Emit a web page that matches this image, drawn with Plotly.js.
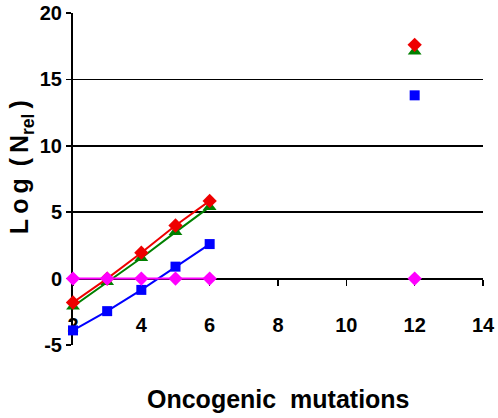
<!DOCTYPE html>
<html>
<head>
<meta charset="utf-8">
<script src="https://cdn.plot.ly/plotly-3.0.1.min.js"></script>
<style>html,body{margin:0;padding:0;background:#fff;}#chart{width:498px;height:418px;}</style>
</head>
<body>
<div id="chart"></div>
<script>
// Data (gap between 6 and 12 breaks the line)
const mutations = [2, 3, 4, 5, 6, null, 12];
const redSeries = [-1.8, 0.0, 1.95, 4.0, 5.85, null, 17.6];
const greenSeries = [-2.1, -0.25, 1.55, 3.5, 5.4, null, 17.1];
const blueSeries = [-3.9, -2.45, -0.85, 0.9, 2.6, null, 13.8];
const magentaSeries = [0, 0, 0, 0, 0, null, 0];
const xTicks = [2, 4, 6, 8, 10, 12, 14];
const yTicks = [-5, 0, 5, 10, 15, 20];
const gridTicks = [5, 10, 15];

function series(y, color, symbol, size) {
  return {
    x: mutations, y: y, type: 'scatter', mode: 'lines+markers',
    connectgaps: false, cliponaxis: false,
    line: {color: color, width: 2},
    marker: {color: color, symbol: symbol, size: size},
    hoverinfo: 'skip', showlegend: false
  };
}

const data = [
  series(blueSeries, '#0000ff', 'square', 10),
  series(greenSeries, '#008000', 'triangle-up', 12),
  series(redSeries, '#ee0000', 'diamond', 11),
  series(magentaSeries, '#ff00ff', 'diamond', 11)
];
// invisible trace to activate the grid-only overlay axis
data.push({x: [2], y: [0], yaxis: 'y2', mode: 'markers', marker: {opacity: 0}, hoverinfo: 'skip', showlegend: false});

const fam = '"Liberation Sans", Arial, sans-serif';
const tickFont = {family: fam, size: 20, color: '#000', weight: 'bold'};
const bold = v => '<b>' + v + '</b>';

const layout = {
  width: 498, height: 418,
  margin: {l: 73, r: 15, t: 13, b: 73},
  paper_bgcolor: '#fff', plot_bgcolor: '#fff',
  font: {family: fam, color: '#000'},
  xaxis: {
    range: [2, 14], tickvals: xTicks, ticktext: xTicks.map(bold),
    anchor: 'free', position: 0.2, layer: 'below traces',
    showline: true, linecolor: '#000', linewidth: 2,
    ticks: 'outside', ticklen: 6, tickwidth: 1.5, tickcolor: '#000',
    ticklabelstandoff: 22,
    showgrid: false, zeroline: false, tickfont: tickFont
  },
  yaxis: {
    range: [-5, 20], tickvals: yTicks, ticktext: yTicks.map(bold),
    showline: true, linecolor: '#000', linewidth: 2, layer: 'below traces',
    ticks: 'outside', ticklen: 5, tickwidth: 1.5, tickcolor: '#000',
    showgrid: false, zeroline: false, tickfont: tickFont
  },
  yaxis2: {
    range: [-5, 20], overlaying: 'y', tickvals: gridTicks, layer: 'below traces',
    showticklabels: false, ticks: '', showgrid: true, gridcolor: '#000', gridwidth: 1.5,
    zeroline: false, showline: false
  },
  annotations: [{
    text: '<b>Oncogenic  mutations</b>', xref: 'paper', yref: 'paper',
    x: 0.5, y: -0.115, xanchor: 'center', yanchor: 'top', showarrow: false,
    font: {family: fam, size: 25, color: '#000'}
  }, {
    text: '<b>L\u2009o\u2009g\u2009 (\u2009N<sub>rel</sub>\u2009)</b>', xref: 'paper', yref: 'paper',
    x: -0.125, y: 0.535, xanchor: 'center', yanchor: 'middle', textangle: -90, showarrow: false,
    font: {family: fam, size: 25, color: '#000'}
  }]
};

Plotly.newPlot('chart', data, layout, {displayModeBar: false, staticPlot: true});
</script>
</body>
</html>
